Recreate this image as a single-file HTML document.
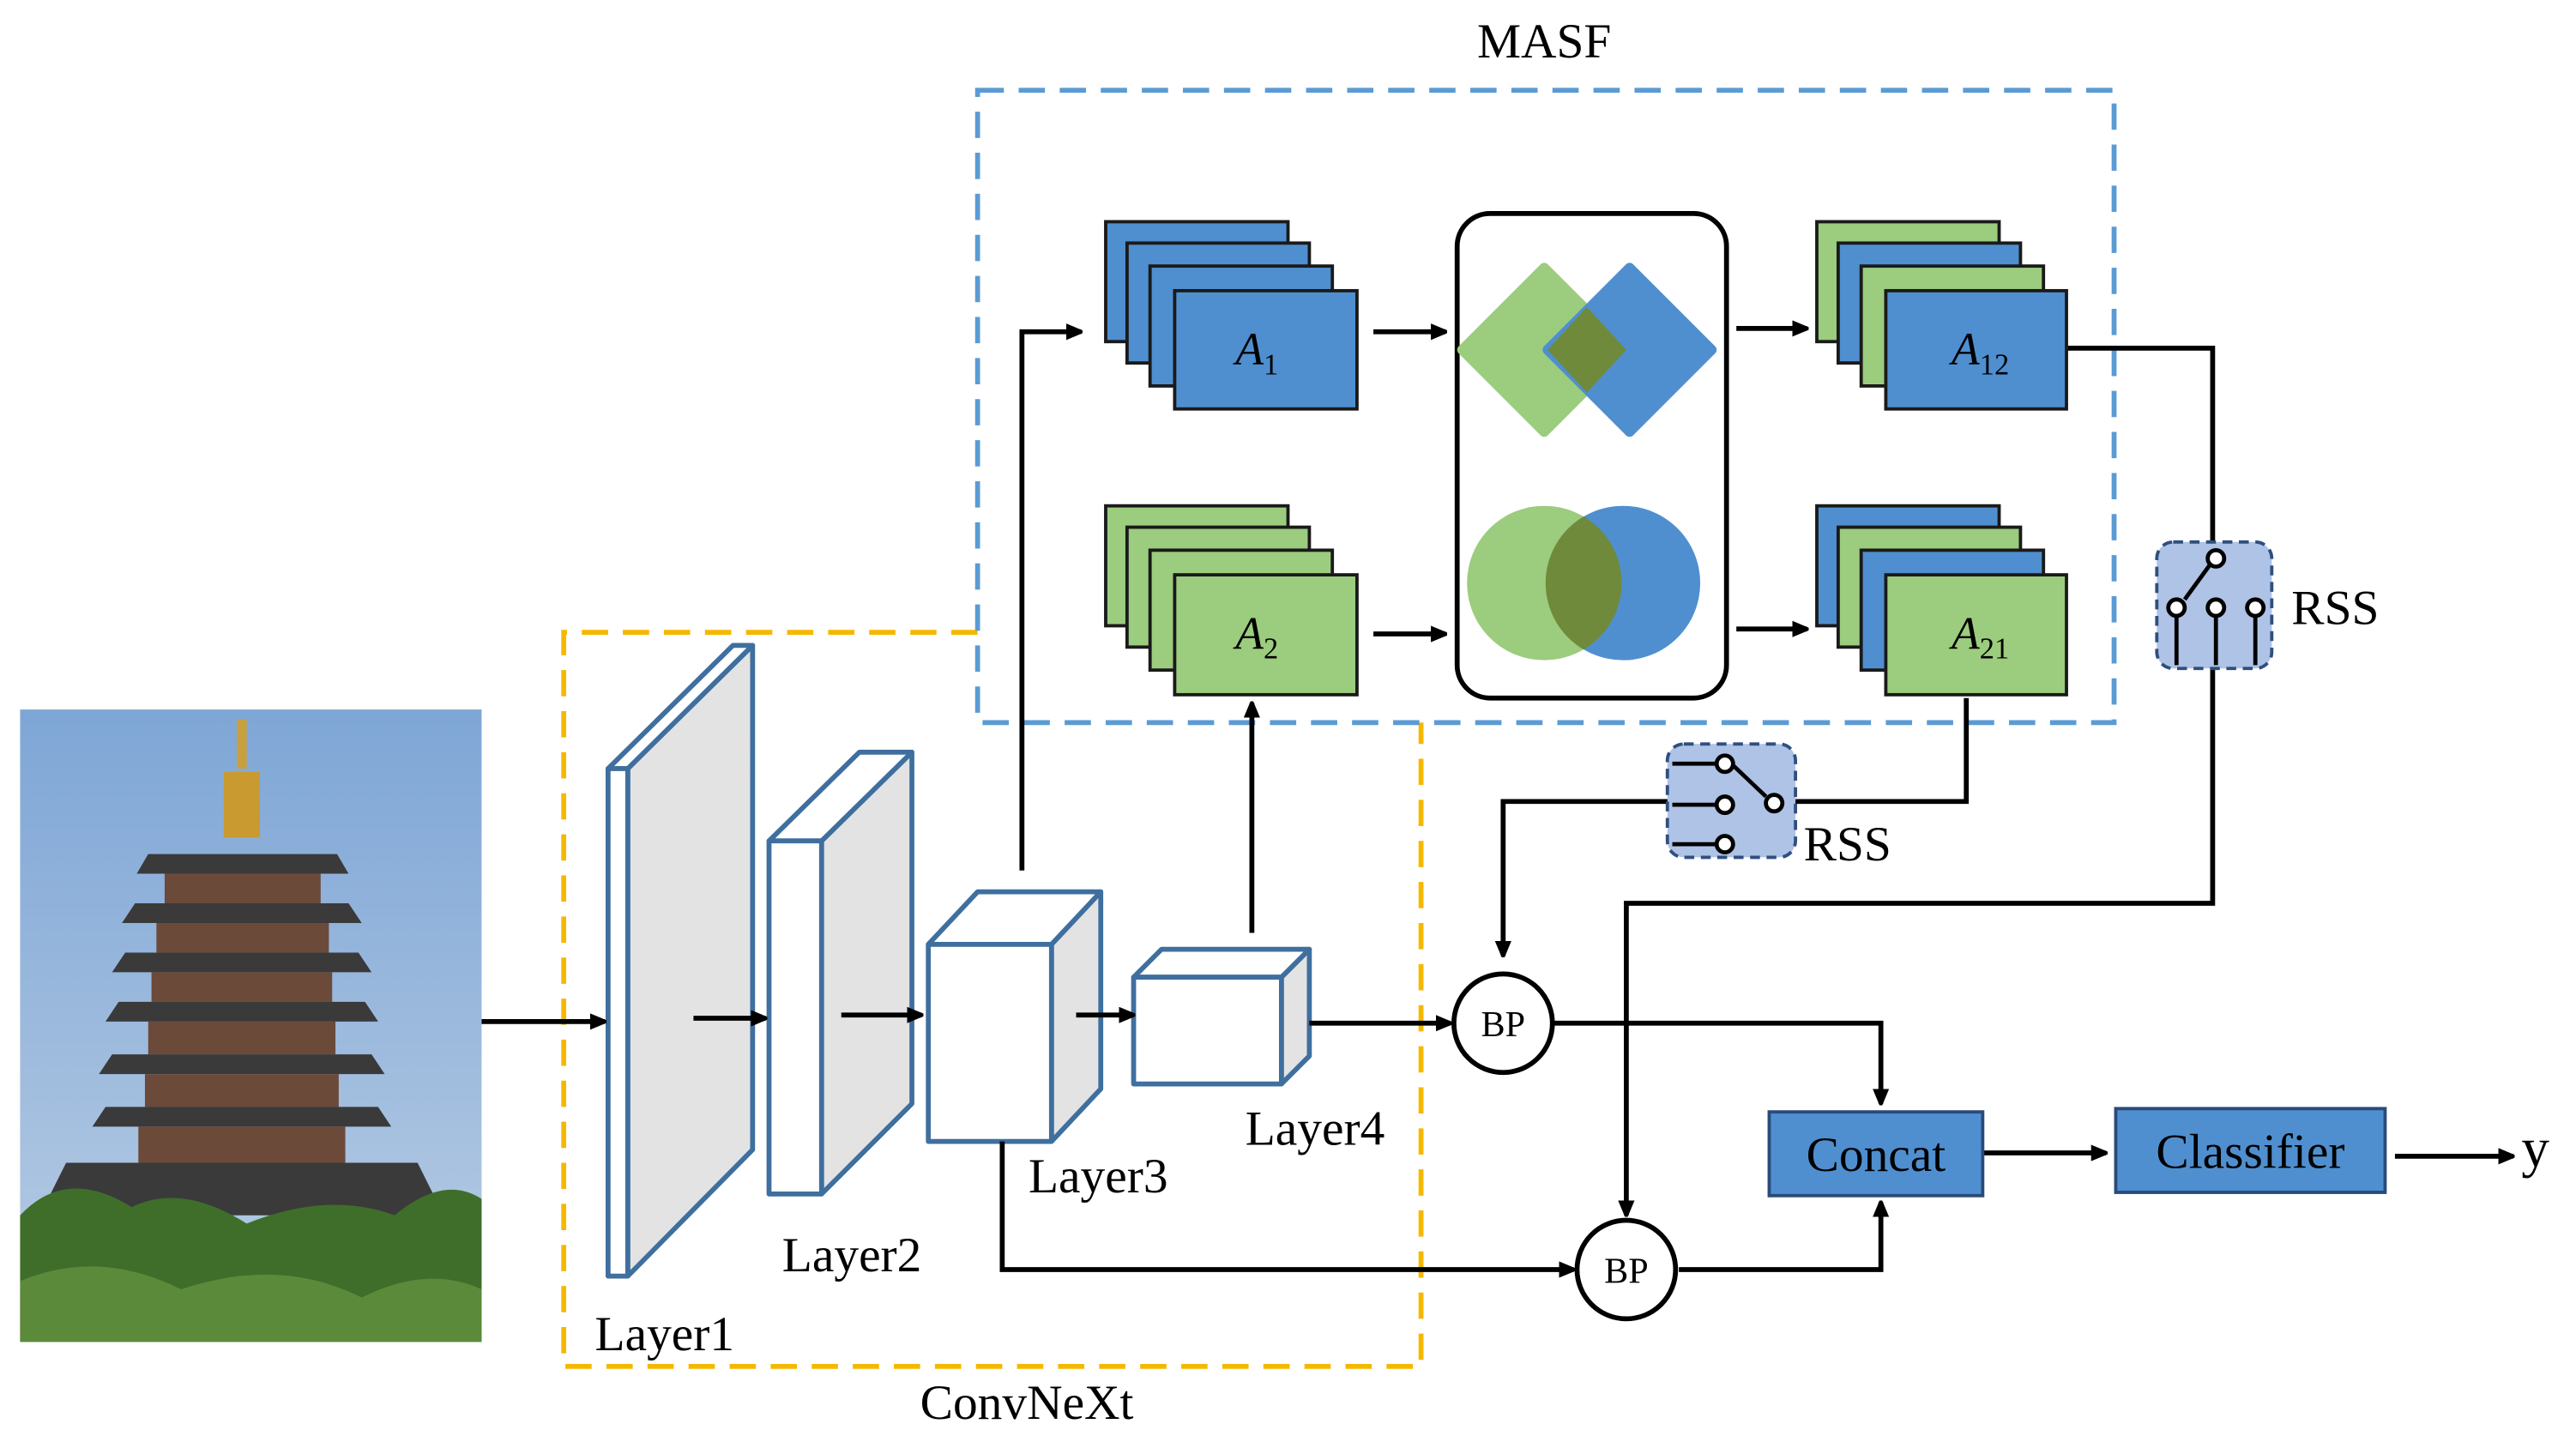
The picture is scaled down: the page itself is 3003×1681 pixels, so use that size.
<!DOCTYPE html>
<html><head><meta charset="utf-8"><style>
html,body{margin:0;padding:0;background:#fff;}
svg{display:block;}
text{font-family:"Liberation Serif",serif;}
</style></head><body>
<svg width="3003" height="1681" viewBox="0 0 1568 878" xmlns="http://www.w3.org/2000/svg">
<defs>
<marker id="ar" markerWidth="10" markerHeight="10" refX="9" refY="5" orient="auto" markerUnits="userSpaceOnUse"><path d="M0,0 L12,5 L0,10 z" fill="#000"/></marker>
<linearGradient id="sky" x1="0" y1="0" x2="0" y2="1"><stop offset="0" stop-color="#7ea6d6"/><stop offset="1" stop-color="#b9cde4"/></linearGradient>
</defs>
<rect x="12" y="432" width="281" height="385" fill="url(#sky)"/>
<rect x="144" y="438" width="6" height="30" fill="#c8a040"/>
<rect x="136" y="470" width="22" height="40" fill="#c89a30"/>
<g fill="#3a3a3a">
<path d="M90 520 L205 520 L212 532 L83 532Z"/>
<rect x="100" y="532" width="95" height="18" fill="#6b4a3a"/>
<path d="M82 550 L212 550 L220 562 L74 562Z"/>
<rect x="95" y="562" width="105" height="18" fill="#6b4a3a"/>
<path d="M76 580 L218 580 L226 592 L68 592Z"/>
<rect x="92" y="592" width="110" height="18" fill="#6b4a3a"/>
<path d="M72 610 L222 610 L230 622 L64 622Z"/>
<rect x="90" y="622" width="114" height="20" fill="#6b4a3a"/>
<path d="M68 642 L226 642 L234 654 L60 654Z"/>
<rect x="88" y="654" width="118" height="20" fill="#6b4a3a"/>
<path d="M64 674 L230 674 L238 686 L56 686Z"/>
<rect x="84" y="686" width="126" height="22" fill="#6b4a3a"/>
<path d="M40 708 L254 708 L270 740 L24 740Z"/>
</g>
<path d="M12 740 Q40 710 80 735 Q110 720 150 745 Q200 725 240 740 Q270 715 293 730 L293 817 L12 817Z" fill="#3f6e2a"/>
<path d="M12 780 Q60 760 110 785 Q170 765 220 790 Q260 770 293 785 L293 817 L12 817Z" fill="#5a8a3a"/>
<path d="M595 385 L343 385 L343 832 L865 832 L865 440" fill="none" stroke="#f5b800" stroke-width="3" stroke-dasharray="16,9"/>
<rect x="595" y="55" width="692" height="385" fill="none" stroke="#5a9bd5" stroke-width="3" stroke-dasharray="16,9"/>
<text x="940" y="35" font-size="30" text-anchor="middle">MASF</text>
<text x="625" y="864" font-size="30" text-anchor="middle">ConvNeXt</text>
<g stroke="#3f6f9f" stroke-width="3" stroke-linejoin="round">
<path d="M382 468 L458 393 L458 700 L382 777Z" fill="#e3e3e3"/>
<path d="M370 468 L446 393 L458 393 L382 468Z" fill="#fff"/>
<rect x="370" y="468" width="12" height="309" fill="#fff"/>
<path d="M500 512 L555 458 L555 672 L500 727Z" fill="#e3e3e3"/>
<path d="M468 512 L523 458 L555 458 L500 512Z" fill="#fff"/>
<rect x="468" y="512" width="32" height="215" fill="#fff"/>
<path d="M640 575 L670 543 L670 663 L640 695Z" fill="#e3e3e3"/>
<path d="M565 575 L595 543 L670 543 L640 575Z" fill="#fff"/>
<rect x="565" y="575" width="75" height="120" fill="#fff"/>
<path d="M780 595 L797 578 L797 643 L780 660Z" fill="#e3e3e3"/>
<path d="M690 595 L707 578 L797 578 L780 595Z" fill="#fff"/>
<rect x="690" y="595" width="90" height="65" fill="#fff"/>
</g>
<g font-size="30">
<text x="362" y="822">Layer1</text>
<text x="476" y="774">Layer2</text>
<text x="626" y="726">Layer3</text>
<text x="758" y="697">Layer4</text>
</g>
<g stroke="#000" stroke-width="3" fill="none">
<line x1="293" y1="622" x2="368" y2="622" marker-end="url(#ar)"/>
<line x1="422" y1="620" x2="466" y2="620" marker-end="url(#ar)"/>
<line x1="512" y1="618" x2="561" y2="618" marker-end="url(#ar)"/>
<line x1="655" y1="618" x2="690" y2="618" marker-end="url(#ar)"/>
<line x1="797" y1="623" x2="883" y2="623" marker-end="url(#ar)"/>
<polyline points="622,530 622,202 658,202" marker-end="url(#ar)"/>
<line x1="762" y1="568" x2="762" y2="428" marker-end="url(#ar)"/>
<line x1="836" y1="202" x2="880" y2="202" marker-end="url(#ar)"/>
<line x1="836" y1="386" x2="880" y2="386" marker-end="url(#ar)"/>
<line x1="1057" y1="200" x2="1100" y2="200" marker-end="url(#ar)"/>
<line x1="1057" y1="383" x2="1100" y2="383" marker-end="url(#ar)"/>
<polyline points="1258,212 1347,212 1347,550 990,550 990,740" marker-end="url(#ar)"/>
<polyline points="1197,425 1197,488 915,488 915,582" marker-end="url(#ar)"/>
<polyline points="945,623 1145,623 1145,672" marker-end="url(#ar)"/>
<polyline points="610,695 610,773 958,773" marker-end="url(#ar)"/>
<polyline points="1022,773 1145,773 1145,732" marker-end="url(#ar)"/>
<line x1="1207" y1="702" x2="1282" y2="702" marker-end="url(#ar)"/>
<line x1="1458" y1="704" x2="1530" y2="704" marker-end="url(#ar)"/>
</g>
<g stroke="#1a1a1a" stroke-width="2">
<rect x="673" y="135" width="111" height="73" fill="#4f8fd0"/>
<rect x="686" y="148" width="111" height="73" fill="#4f8fd0"/>
<rect x="700" y="162" width="111" height="73" fill="#4f8fd0"/>
<rect x="715" y="177" width="111" height="72" fill="#4f8fd0"/>
<rect x="673" y="308" width="111" height="73" fill="#9ccc7e"/>
<rect x="686" y="321" width="111" height="73" fill="#9ccc7e"/>
<rect x="700" y="335" width="111" height="73" fill="#9ccc7e"/>
<rect x="715" y="350" width="111" height="73" fill="#9ccc7e"/>
<rect x="1106" y="135" width="111" height="73" fill="#9ccc7e"/>
<rect x="1119" y="148" width="111" height="73" fill="#4f8fd0"/>
<rect x="1133" y="162" width="111" height="73" fill="#9ccc7e"/>
<rect x="1148" y="177" width="110" height="72" fill="#4f8fd0"/>
<rect x="1106" y="308" width="111" height="73" fill="#4f8fd0"/>
<rect x="1119" y="321" width="111" height="73" fill="#9ccc7e"/>
<rect x="1133" y="335" width="111" height="73" fill="#4f8fd0"/>
<rect x="1148" y="350" width="110" height="73" fill="#9ccc7e"/>
</g>
<g font-size="28" font-style="italic">
<text x="752" y="222">A<tspan font-size="18" font-style="normal" dy="6">1</tspan></text>
<text x="752" y="395">A<tspan font-size="18" font-style="normal" dy="6">2</tspan></text>
<text x="1188" y="222">A<tspan font-size="18" font-style="normal" dy="6">12</tspan></text>
<text x="1188" y="395">A<tspan font-size="18" font-style="normal" dy="6">21</tspan></text>
</g>
<rect x="887" y="130" width="164" height="295" rx="20" fill="#fff" stroke="#000" stroke-width="3"/>
<path d="M940 163 L990 213 L940 263 L890 213Z" fill="#9ccc7e" stroke="#9ccc7e" stroke-width="6" stroke-linejoin="round"/>
<path d="M992 163 L1042 213 L992 263 L942 213Z" fill="#4f8fd0" stroke="#4f8fd0" stroke-width="6" stroke-linejoin="round"/>
<path d="M966 187 L990 213 L966 239 L942 213Z" fill="#6f8a3a"/>
<circle cx="940" cy="355" r="47" fill="#9ccc7e"/>
<circle cx="988" cy="355" r="47" fill="#4f8fd0"/>
<path d="M964 314.5 A47 47 0 0 1 964 395.5 A47 47 0 0 1 964 314.5Z" fill="#6f8a3a"/>
<g>
<rect x="1313" y="330" width="70" height="77" rx="10" fill="#aec3e6" stroke="#2f4f7f" stroke-width="2" stroke-dasharray="6,4"/>
<g stroke="#000" stroke-width="2.5" fill="#fff">
<line x1="1325" y1="375" x2="1325" y2="405"/><line x1="1349" y1="375" x2="1349" y2="405"/><line x1="1373" y1="375" x2="1373" y2="405"/>
<line x1="1330" y1="365" x2="1346" y2="343"/>
<circle cx="1325" cy="370" r="5"/><circle cx="1349" cy="370" r="5"/><circle cx="1373" cy="370" r="5"/><circle cx="1349" cy="340" r="5"/>
</g>
<text x="1395" y="380" font-size="30">RSS</text>
<rect x="1015" y="453" width="78" height="69" rx="10" fill="#aec3e6" stroke="#2f4f7f" stroke-width="2" stroke-dasharray="6,4"/>
<g stroke="#000" stroke-width="2.5" fill="#fff">
<line x1="1018" y1="465" x2="1045" y2="465"/><line x1="1018" y1="490" x2="1045" y2="490"/><line x1="1018" y1="514" x2="1045" y2="514"/>
<line x1="1055" y1="466" x2="1075" y2="485"/>
<circle cx="1050" cy="465" r="5"/><circle cx="1050" cy="490" r="5"/><circle cx="1050" cy="514" r="5"/><circle cx="1080" cy="489" r="5"/>
</g>
<text x="1098" y="524" font-size="30">RSS</text>
</g>
<circle cx="915" cy="623" r="30" fill="#fff" stroke="#000" stroke-width="3"/>
<text x="915" y="631" font-size="22" text-anchor="middle">BP</text>
<circle cx="990" cy="773" r="30" fill="#fff" stroke="#000" stroke-width="3"/>
<text x="990" y="781" font-size="22" text-anchor="middle">BP</text>
<rect x="1077" y="677" width="130" height="51" fill="#4f8fd0" stroke="#2a4a7a" stroke-width="2"/>
<text x="1142" y="713" font-size="30" text-anchor="middle">Concat</text>
<rect x="1288" y="675" width="164" height="51" fill="#4f8fd0" stroke="#2a4a7a" stroke-width="2"/>
<text x="1370" y="711" font-size="30" text-anchor="middle">Classifier</text>
<text x="1535" y="710" font-size="34">y</text>
</svg>
</body></html>
